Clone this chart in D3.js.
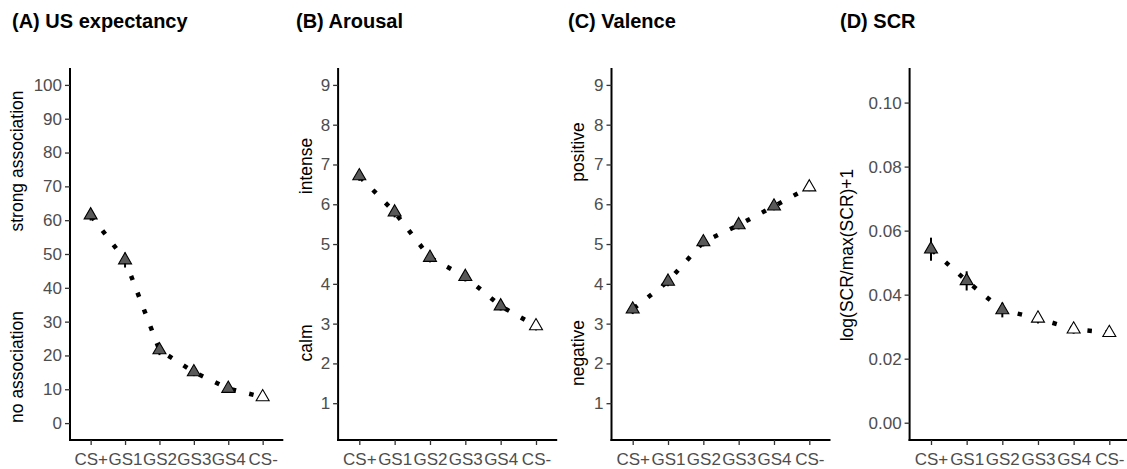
<!DOCTYPE html>
<html>
<head>
<meta charset="utf-8">
<script src="https://cdn.jsdelivr.net/npm/d3@7"></script>
<style>
  html, body { margin: 0; padding: 0; background: #ffffff; }
  svg { display: block; font-family: "Liberation Sans", Arial, sans-serif; }
</style>
</head>
<body>
<svg id="chart" width="1127" height="469"></svg>
<script>
// Stimulus categories on the generalization gradient
const categories = ["CS+", "GS1", "GS2", "GS3", "GS4", "CS-"];

// (A) US expectancy ratings (0-100)
const expectancyMean = [61.5, 48.2, 21.6, 15.1, 10.2, 7.7];
const expectancySE   = [1.6, 2.2, 1.5, 1.2, 1.0, 0.9];

// (B) Arousal ratings (1-9)
const arousalMean = [6.71, 5.80, 4.66, 4.18, 3.44, 2.94];
const arousalSE   = [0.12, 0.13, 0.12, 0.12, 0.11, 0.11];

// (C) Valence ratings (1-9)
const valenceMean = [3.36, 4.06, 5.05, 5.48, 5.95, 6.43];
const valenceSE   = [0.12, 0.12, 0.11, 0.11, 0.10, 0.10];

// (D) Skin conductance responses
const scrMean = [0.0542, 0.0443, 0.0352, 0.0326, 0.0292, 0.0281];
const scrSE   = [0.0036, 0.0030, 0.0023, 0.0016, 0.0014, 0.0013];

// Whether a stimulus differs significantly from CS- (filled) or not (open)
const sigRatings = [true, true, true, true, true, false];
const sigSCR     = [true, true, true, false, false, false];

// Tick labels
const ticksExpectancy = [0, 10, 20, 30, 40, 50, 60, 70, 80, 90, 100];
const ticksRating     = [1, 2, 3, 4, 5, 6, 7, 8, 9];
const ticksSCR        = [0, 0.02, 0.04, 0.06, 0.08, 0.10];

// Titles and axis labels
const panelTitles = ["(A) US expectancy", "(B) Arousal", "(C) Valence", "(D) SCR"];
const highLabels  = ["strong association", "intense", "positive", null];
const lowLabels   = ["no association", "calm", "negative", null];
const scrAxisTitle = "log(SCR/max(SCR)+1";

const svg = d3.select("#chart");

const panels = [
  { title: panelTitles[0], mean: expectancyMean, se: expectancySE, sig: sigRatings,
    domain: [-5, 105], ticks: ticksExpectancy, fmt: d3.format("d"),
    x0: 70, x1: 283.3, titleX: 12, labX: 22.5, highY: 161, lowY: 367 },
  { title: panelTitles[1], mean: arousalMean, se: arousalSE, sig: sigRatings,
    domain: [0.075, 9.425], ticks: ticksRating, fmt: d3.format("d"),
    x0: 338.1, x1: 557.2, titleX: 296, labX: 311.5, highY: 166, lowY: 343 },
  { title: panelTitles[2], mean: valenceMean, se: valenceSE, sig: sigRatings,
    domain: [0.075, 9.425], ticks: ticksRating, fmt: d3.format("d"),
    x0: 611.5, x1: 830.5, titleX: 568, labX: 583.5, highY: 152, lowY: 353 },
  { title: panelTitles[3], mean: scrMean, se: scrSE, sig: sigSCR,
    domain: [-0.0054, 0.1108], ticks: ticksSCR, fmt: d3.format(".2f"),
    x0: 909.6, x1: 1130.7, titleX: 840, labX: 853, highY: 255, lowY: null }
];

const plotTop = 68, plotBottom = 440;
const tickFont = 17;
const grey30 = "#4d4d4d";

// Triangle marker (centroid at origin), side ~13px
const side = 13, triH = side * Math.sqrt(3) / 2;
const triPath = `M0,${-2 * triH / 3}L${side / 2},${triH / 3}L${-side / 2},${triH / 3}Z`;

panels.forEach((p, pi) => {
  const x = d3.scalePoint().domain(categories).range([p.x0, p.x1]).padding(0.6);
  const y = d3.scaleLinear().domain(p.domain).range([plotBottom, plotTop]);
  const g = svg.append("g");

  // panel title
  g.append("text")
    .attr("x", p.titleX).attr("y", 28)
    .attr("font-size", 20).attr("font-weight", "bold")
    .attr("fill", "#000")
    .text(p.title);

  // y axis
  const ya = g.append("g")
    .attr("transform", `translate(${p.x0},0)`)
    .call(d3.axisLeft(y).tickValues(p.ticks).tickFormat(p.fmt)
      .tickSizeInner(5).tickSizeOuter(0).tickPadding(3));
  // x axis
  const xa = g.append("g")
    .attr("transform", `translate(0,${plotBottom})`)
    .call(d3.axisBottom(x).tickSizeInner(5).tickSizeOuter(0).tickPadding(8));

  [ya, xa].forEach(ax => {
    ax.select(".domain").attr("stroke", "#000").attr("stroke-width", 2);
    ax.selectAll(".tick line").attr("stroke", "#333").attr("stroke-width", 1.3);
    ax.selectAll(".tick text")
      .attr("fill", grey30).attr("font-size", tickFont)
      .attr("font-family", "Liberation Sans, Arial, sans-serif");
  });
  // extend the domains so the axes meet at the corner
  ya.select(".domain").attr("d", `M0,${plotBottom + 1}V${plotTop}`);
  xa.select(".domain").attr("d", `M${p.x0 - 1},0H${Math.min(p.x1, 1127)}`);

  // y axis pole labels
  const addLabel = (txt, cy) => {
    if (!txt) return;
    g.append("text")
      .attr("transform", `translate(${p.labX},${cy}) rotate(-90)`)
      .attr("text-anchor", "middle")
      .attr("font-size", 17.5).attr("fill", "#000")
      .text(txt);
  };
  if (pi < 3) {
    addLabel(highLabels[pi], p.highY);
    addLabel(lowLabels[pi], p.lowY);
  } else {
    addLabel(scrAxisTitle, p.highY);
  }

  const data = categories.map((c, i) => ({ c, m: p.mean[i], se: p.se[i], sig: p.sig[i] }));

  // dotted connecting line
  g.append("path")
    .datum(data)
    .attr("fill", "none")
    .attr("stroke", "#000")
    .attr("stroke-width", 4.5)
    .attr("stroke-dasharray", "4.5 13.5")
    .attr("stroke-dashoffset", -1.5)
    .attr("d", d3.line().x(d => x(d.c)).y(d => y(d.m)));

  // error bars
  g.selectAll(".err").data(data).enter().append("line")
    .attr("x1", d => x(d.c)).attr("x2", d => x(d.c))
    .attr("y1", d => y(d.m - d.se)).attr("y2", d => y(d.m + d.se))
    .attr("stroke", "#000").attr("stroke-width", 2);

  // mean markers
  g.selectAll(".pt").data(data).enter().append("path")
    .attr("d", triPath)
    .attr("transform", d => `translate(${x(d.c)},${y(d.m)})`)
    .attr("fill", d => d.sig ? "#595959" : "#ffffff")
    .attr("stroke", "#000").attr("stroke-width", 1.1);
});
</script>
</body>
</html>
